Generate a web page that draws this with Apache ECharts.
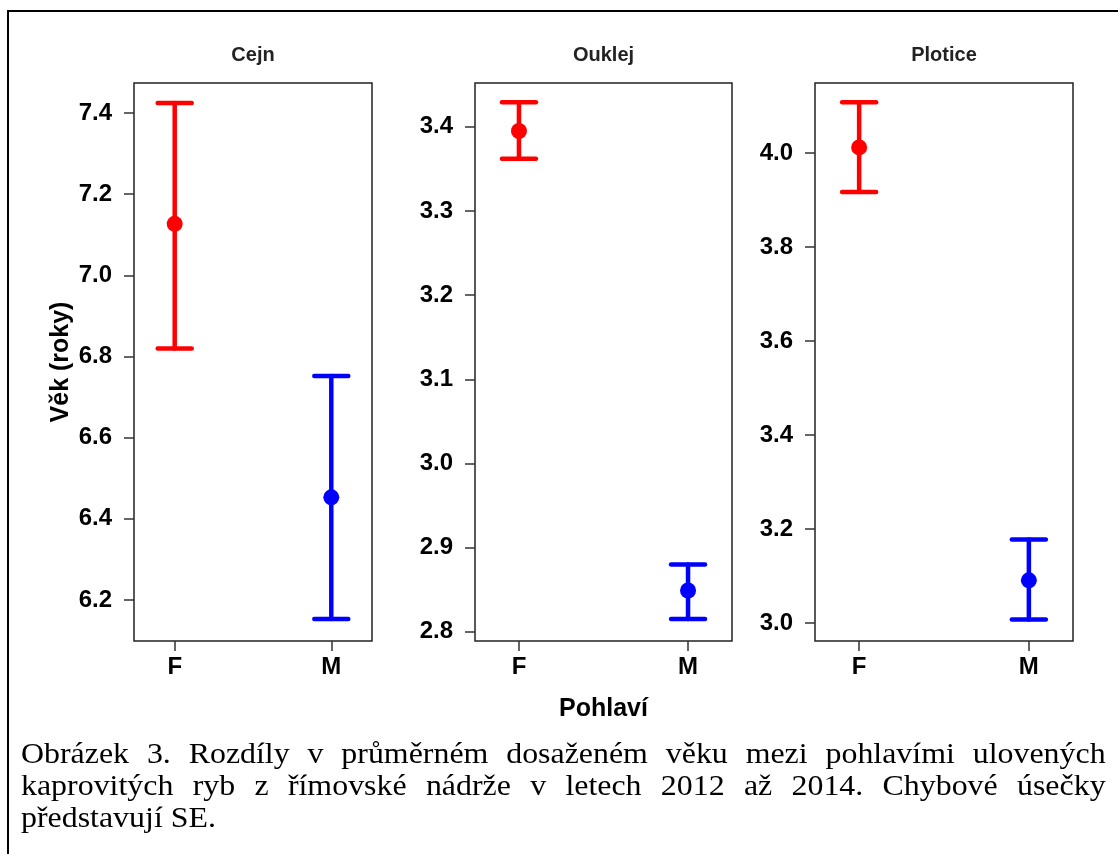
<!DOCTYPE html>
<html>
<head>
<meta charset="utf-8">
<script src="https://cdn.jsdelivr.net/npm/echarts@6/dist/echarts.min.js"></script>
<style>
  html, body { margin: 0; padding: 0; background: #fff; overflow: hidden; }
  #wrap { position: relative; width: 1118px; height: 854px; }
  #chart { position: absolute; left: 0; top: 0; width: 1118px; height: 854px; }
  #frame { position: absolute; left: 7px; top: 10px; width: 1200px; height: 900px; border: 2px solid #000; }
  #caption {
    position: absolute; left: 21px; top: 737px; width: 986px;
    font-family: "Liberation Serif", "Times New Roman", serif;
    font-size: 29px; line-height: 32px; color: #000;
    transform: scaleX(1.1); transform-origin: 0 0;
  }
  #caption span { display: block; text-align: justify; text-align-last: justify; white-space: nowrap; }
  #caption span.last { text-align-last: left; }
</style>
</head>
<body>
<div id="wrap">
  <div id="frame"></div>
  <div id="chart"></div>
  <div id="caption">
    <span>Obrázek 3. Rozdíly v&nbsp;průměrném dosaženém věku mezi pohlavími ulovených</span>
    <span>kaprovitých ryb z&nbsp;římovské nádrže v&nbsp;letech 2012 až 2014. Chybové úsečky</span>
    <span class="last">představují SE.</span>
  </div>
</div>
<script>
// data
var species = ['Cejn', 'Ouklej', 'Plotice'];
var sexes = ['F', 'M'];
var sexColors = ['#ff0000', '#0000ff'];

// mean age and SE bounds, order F, M
var means = [[7.127, 6.453], [3.395, 2.849], [4.012, 3.091]];
var upper = [[7.425, 6.752], [3.429, 2.880], [4.108, 3.178]];
var lower = [[6.820, 6.153], [3.362, 2.815], [3.917, 3.008]];

// y axis ranges and tick labels per panel
var yMin = [6.099, 2.789, 2.962];
var yMax = [7.474, 3.452, 4.149];
var yTicks = [
  [6.2, 6.4, 6.6, 6.8, 7.0, 7.2, 7.4],
  [2.8, 2.9, 3.0, 3.1, 3.2, 3.3, 3.4],
  [3.0, 3.2, 3.4, 3.6, 3.8, 4.0]
];

var panels = [
  { left: 134, width: 238 },
  { left: 475, width: 257 },
  { left: 815, width: 258 }
];

var myChart = echarts.init(document.getElementById('chart'));

var grids = [], xAxes = [], yAxes = [], series = [], graphics = [];
var tickColor = '#333';
var font = 'Liberation Sans, Arial, sans-serif';

panels.forEach(function (p, i) {
  grids.push({
    left: p.left, top: 83, width: p.width, height: 558,
    show: true, borderColor: '#222', borderWidth: 1.5,
    outerBoundsMode: 'none'
  });
  var xa = {
    type: 'value', gridIndex: i, min: 0.74, max: 2.26,
    splitLine: { show: false },
    axisLine: { show: false },
    axisTick: { show: true, length: 10, customValues: [1, 2], lineStyle: { color: tickColor, width: 1.5 } },
    axisLabel: {
      customValues: [1, 2], margin: 14,
      formatter: function (v) { return sexes[Math.round(v) - 1]; },
      fontSize: 24, fontWeight: 'bold', color: '#000', fontFamily: font
    }
  };
  if (i === 1) {
    xa.name = 'Pohlaví';
    xa.nameLocation = 'middle';
    xa.nameGap = 56;
    xa.nameTextStyle = { fontSize: 25, fontWeight: 'bold', color: '#000', fontFamily: font };
  }
  xAxes.push(xa);
  var ya = {
    type: 'value', gridIndex: i, min: yMin[i], max: yMax[i],
    splitLine: { show: false },
    axisLine: { show: false },
    axisTick: { show: true, length: 10, customValues: yTicks[i], lineStyle: { color: tickColor, width: 1.5 } },
    axisLabel: {
      customValues: yTicks[i], margin: 22,
      formatter: function (v) { return v.toFixed(1); },
      fontSize: 24, fontWeight: 'bold', color: '#000', fontFamily: font
    }
  };
  if (i === 0) {
    ya.name = 'Věk (roky)';
    ya.nameLocation = 'middle';
    ya.nameGap = 60;
    ya.nameRotate = 90;
    ya.nameTextStyle = { fontSize: 25, fontWeight: 'bold', color: '#000', fontFamily: font };
  }
  yAxes.push(ya);

  // error bars
  series.push({
    type: 'custom', xAxisIndex: i, yAxisIndex: i,
    data: sexes.map(function (s, j) { return [j + 1, lower[i][j], upper[i][j]]; }),
    renderItem: function (params, api) {
      var x = api.value(0);
      var top = api.coord([x, api.value(2)]);
      var bot = api.coord([x, api.value(1)]);
      var st = { stroke: sexColors[params.dataIndex], lineWidth: 4.5, lineCap: 'round' };
      return {
        type: 'group',
        children: [
          { type: 'line', shape: { x1: top[0], y1: top[1], x2: bot[0], y2: bot[1] }, style: st },
          { type: 'line', shape: { x1: top[0] - 17, y1: top[1], x2: top[0] + 17, y2: top[1] }, style: st },
          { type: 'line', shape: { x1: bot[0] - 17, y1: bot[1], x2: bot[0] + 17, y2: bot[1] }, style: st }
        ]
      };
    },
    silent: true, z: 2
  });
  // means
  series.push({
    type: 'scatter', xAxisIndex: i, yAxisIndex: i,
    data: sexes.map(function (s, j) { return [j + 1, means[i][j]]; }),
    symbol: 'circle', symbolSize: 16,
    itemStyle: { color: function (p) { return sexColors[p.dataIndex]; }, opacity: 1 },
    silent: true, z: 3
  });

  graphics.push({
    type: 'text', x: p.left + p.width / 2, y: 55,
    style: {
      text: species[i], fill: '#222', font: 'bold 20px ' + font,
      align: 'center', verticalAlign: 'middle'
    }
  });
});

var option = {
  animation: false,
  grid: grids,
  xAxis: xAxes,
  yAxis: yAxes,
  series: series,
  graphic: graphics
};
myChart.setOption(option);
</script>
</body>
</html>
